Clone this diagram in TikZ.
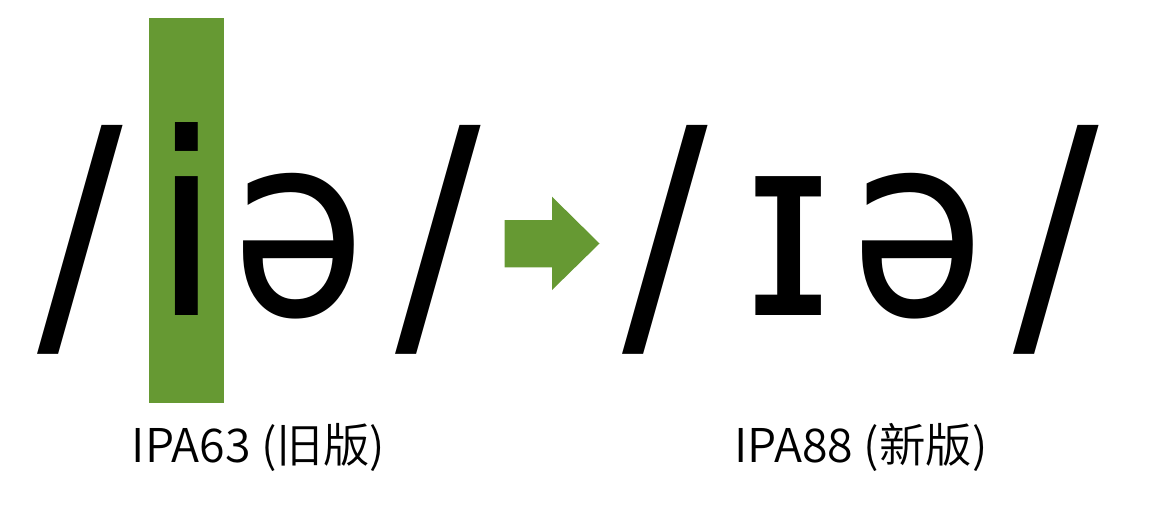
\documentclass[tikz,border=0pt]{standalone}
\usepackage{fontspec}
\newfontfamily\ipafont{DejaVu Sans}
\newfontfamily\cjkfont{Noto Sans CJK SC DemiLight}
\definecolor{ipagreen}{HTML}{669933}
\begin{document}
\begin{tikzpicture}[x=1pt,y=-1pt,
  glyph/.style={inner sep=0pt,outer sep=0pt,anchor=base,font=\ipafont\fontsize{254}{254}\selectfont},
  slash/.style={glyph,yscale=1.097},
  schwa/.style={glyph,xscale=0.86},
  label/.style={inner sep=0pt,outer sep=0pt,anchor=base,font=\cjkfont\fontsize{46.5}{46.5}\selectfont}]
\useasboundingbox (0,0) rectangle (1157,517);
% highlight bar behind the old symbol
\fill[ipagreen] (148.7,18.3) rectangle (224.1,403);
% left group
\node[slash] (s1) at (79.8,328) {/};
\node[glyph] (i1) at (186.4,315) {i};
\node[schwa] (e1) at (299,315) {ə};
\node[slash] (s2) at (438,328) {/};
% arrow
\fill[ipagreen] (504.5,220) -- (552,220) -- (552,196.7) -- (599.5,243.5) -- (552,290) -- (552,267.3) -- (504.5,267.3) -- cycle;
% right group
\node[slash] (s3) at (665.7,328) {/};
\node[glyph] (i2) at (788.4,315) {ɪ};
\node[schwa] (e2) at (917.5,315) {ə};
\node[slash] (s4) at (1056,328) {/};
% labels
\node[label] (l1) at (258.5,462.5) {IPA63 (旧版)};
\node[label] (l2) at (861,462) {IPA88 (新版)};
\end{tikzpicture}
\end{document}
